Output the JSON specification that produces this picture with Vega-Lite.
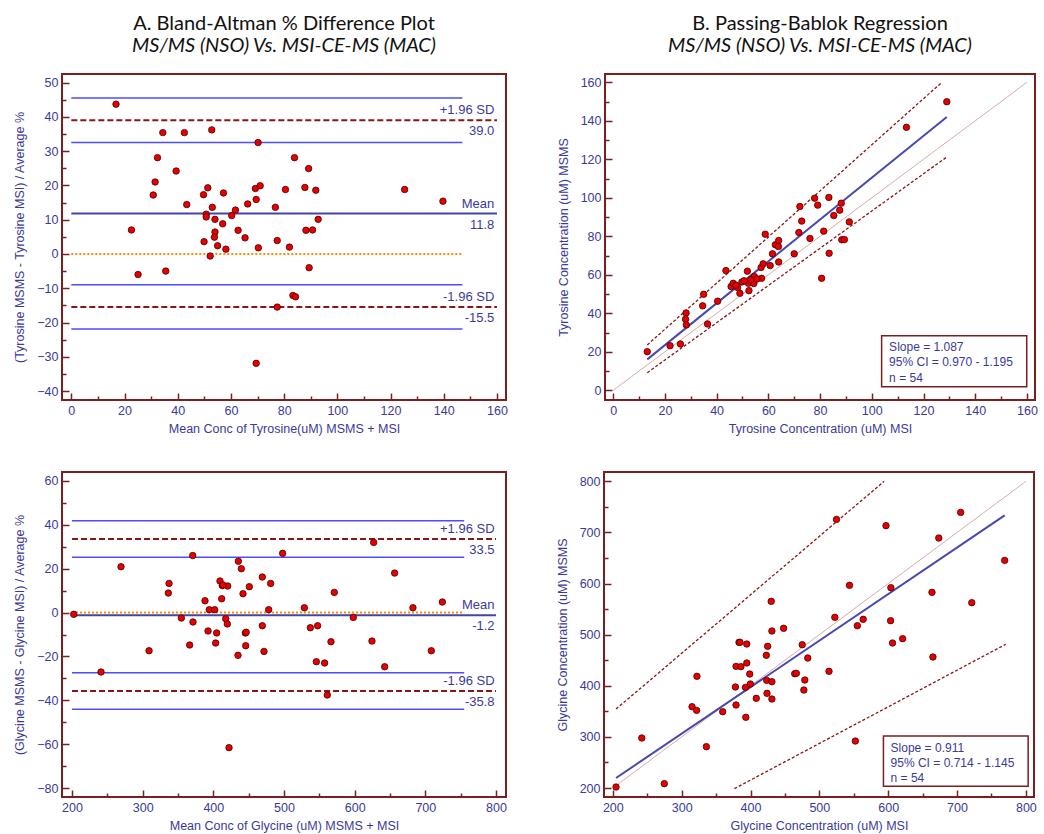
{
  "$schema": "https://vega.github.io/schema/vega-lite/v6.json",
  "background": "white",
  "padding": {"left": 12, "top": 13, "right": 0, "bottom": 0},
  "datasets": {
    "tyrBA": [
      {"mean":16.8,"pct":43.7},{"mean":34.4,"pct":35.4},{"mean":42.5,"pct":35.4},{"mean":52.8,"pct":36.2},{"mean":70.2,"pct":32.5},
      {"mean":32.4,"pct":28.1},{"mean":83.9,"pct":28.1},{"mean":39.4,"pct":24.2},{"mean":89.2,"pct":24.9},{"mean":31.5,"pct":21.0},
      {"mean":30.8,"pct":17.2},{"mean":51.3,"pct":19.3},{"mean":49.7,"pct":17.3},{"mean":57.2,"pct":17.8},{"mean":69.2,"pct":19.1},
      {"mean":71.0,"pct":19.9},{"mean":80.5,"pct":18.8},{"mean":87.8,"pct":19.4},{"mean":91.9,"pct":18.6},{"mean":125.3,"pct":18.8},
      {"mean":139.7,"pct":15.4},{"mean":43.4,"pct":14.4},{"mean":53.0,"pct":13.6},{"mean":61.7,"pct":12.8},{"mean":66.3,"pct":14.6},
      {"mean":69.5,"pct":15.9},{"mean":76.7,"pct":13.6},{"mean":50.7,"pct":11.6},{"mean":50.7,"pct":10.8},{"mean":60.3,"pct":11.2},
      {"mean":54.0,"pct":10.1},{"mean":56.9,"pct":8.8},{"mean":92.8,"pct":10.1},{"mean":22.6,"pct":7.0},{"mean":54.0,"pct":6.4},
      {"mean":62.7,"pct":6.9},{"mean":88.2,"pct":6.9},{"mean":90.7,"pct":7.0},{"mean":53.8,"pct":4.9},{"mean":49.9,"pct":3.6},
      {"mean":65.3,"pct":4.7},{"mean":77.4,"pct":3.9},{"mean":55.0,"pct":2.4},{"mean":58.1,"pct":1.4},{"mean":70.3,"pct":1.8},
      {"mean":82.0,"pct":2.0},{"mean":52.2,"pct":-0.6},{"mean":25.1,"pct":-6.0},{"mean":35.5,"pct":-5.0},{"mean":89.4,"pct":-4.0},
      {"mean":83.3,"pct":-12.1},{"mean":84.3,"pct":-12.5},{"mean":77.4,"pct":-15.5},{"mean":69.5,"pct":-31.9}
    ],
    "tyrBALines": [
      {"kind":"ci","y":45.5,"x":0,"x2":147},{"kind":"ci","y":32.5,"x":0,"x2":147},
      {"kind":"ci","y":-9.0,"x":0,"x2":147},{"kind":"ci","y":-21.9,"x":0,"x2":147},
      {"kind":"mean","y":11.8,"x":0,"x2":160},
      {"kind":"sd","y":39.0,"x":0,"x2":160},{"kind":"sd","y":-15.5,"x":0,"x2":160},
      {"kind":"zero","y":0,"x":0,"x2":147}
    ],
    "tyrBALabels": [
      {"x":159,"y":39.0,"top":"+1.96 SD","bottom":"39.0"},
      {"x":159,"y":11.8,"top":"Mean","bottom":"11.8"},
      {"x":159,"y":-15.5,"top":"-1.96 SD","bottom":"-15.5"}
    ],
    "tyrPB": [
      {"msi":13.2,"msms":20.1},{"msi":22.0,"msms":23.2},{"msi":26.0,"msms":24.1},{"msi":28.2,"msms":40.2},{"msi":28.0,"msms":36.9},
      {"msi":28.3,"msms":34.0},{"msi":36.5,"msms":34.5},{"msi":34.6,"msms":43.9},{"msi":35.0,"msms":49.9},{"msi":40.4,"msms":46.3},
      {"msi":43.6,"msms":62.2},{"msi":45.6,"msms":53.9},{"msi":46.4,"msms":55.6},{"msi":48.1,"msms":53.4},{"msi":49.0,"msms":50.4},
      {"msi":49.8,"msms":56.3},{"msi":51.9,"msms":61.9},{"msi":52.3,"msms":55.6},{"msi":52.5,"msms":51.8},{"msi":54.4,"msms":55.5},
      {"msi":54.6,"msms":59.1},{"msi":57.4,"msms":58.2},{"msi":57.2,"msms":63.8},{"msi":58.0,"msms":65.7},{"msi":58.8,"msms":81.1},
      {"msi":60.7,"msms":64.8},{"msi":61.6,"msms":70.9},{"msi":62.7,"msms":75.6},{"msi":64.0,"msms":77.8},{"msi":63.9,"msms":74.7},
      {"msi":64.0,"msms":66.7},{"msi":70.0,"msms":70.9},{"msi":71.8,"msms":82.0},{"msi":72.2,"msms":95.5},{"msi":72.9,"msms":87.9},
      {"msi":76.1,"msms":78.9},{"msi":77.9,"msms":99.8},{"msi":79.1,"msms":96.2},{"msi":80.6,"msms":58.2},{"msi":81.4,"msms":82.7},
      {"msi":83.4,"msms":100.2},{"msi":83.5,"msms":71.2},{"msi":85.3,"msms":90.8},{"msi":87.6,"msms":93.6},{"msi":88.2,"msms":97.2},
      {"msi":88.4,"msms":78.2},{"msi":89.4,"msms":78.3},{"msi":91.3,"msms":87.5},{"msi":113.4,"msms":136.6},{"msi":129.0,"msms":149.9},
      {"msi":47.5,"msms":54.6},{"msi":50.6,"msms":56.9},{"msi":53.2,"msms":57.4},{"msi":55.6,"msms":57.9}
    ],
    "tyrPBLines": [
      {"kind":"identity","x1":0,"y1":0,"x2":160,"y2":160},
      {"kind":"ci","x1":13.2,"y1":23.6,"x2":127.1,"y2":160.0},
      {"kind":"ci","x1":13.2,"y1":9.2,"x2":128.8,"y2":121.0},
      {"kind":"reg","x1":13.2,"y1":16.1,"x2":129.0,"y2":142.0}
    ],
    "tyrPBBox": [{"x1":103.8,"x2":159.9,"y1":1.9,"y2":28.4}],
    "tyrPBText": [
      {"x":106.7,"y":22.5,"t":"Slope = 1.087"},
      {"x":106.7,"y":14.6,"t":"95% CI = 0.970 - 1.195"},
      {"x":106.7,"y":6.6,"t":"n = 54"}
    ],
    "glyBA": [
      {"mean":202.4,"pct":-0.8},{"mean":241.0,"pct":-27.1},{"mean":269.3,"pct":20.9},{"mean":309.0,"pct":-17.4},{"mean":337.3,"pct":13.3},
      {"mean":336.3,"pct":8.9},{"mean":354.7,"pct":-2.5},{"mean":370.8,"pct":26.0},{"mean":371.2,"pct":-4.3},{"mean":366.5,"pct":-14.8},
      {"mean":388.2,"pct":5.4},{"mean":394.3,"pct":1.3},{"mean":392.5,"pct":-8.4},{"mean":401.9,"pct":1.3},{"mean":403.3,"pct":-13.9},
      {"mean":404.7,"pct":-9.3},{"mean":409.4,"pct":14.4},{"mean":412.7,"pct":12.3},{"mean":411.8,"pct":6.3},{"mean":420.3,"pct":12.1},
      {"mean":417.5,"pct":-2.8},{"mean":419.8,"pct":-5.2},{"mean":422.2,"pct":-61.6},{"mean":435.4,"pct":23.4},{"mean":439.6,"pct":20.0},
      {"mean":442.0,"pct":8.6},{"mean":434.9,"pct":-19.5},{"mean":445.3,"pct":-9.3},{"mean":445.8,"pct":-15.1},{"mean":450.9,"pct":11.8},
      {"mean":469.3,"pct":16.2},{"mean":469.3,"pct":-6.0},{"mean":471.7,"pct":-17.7},{"mean":481.1,"pct":13.3},{"mean":478.3,"pct":1.3},
      {"mean":498.1,"pct":27.0},{"mean":528.8,"pct":2.2},{"mean":537.3,"pct":-6.9},{"mean":545.8,"pct":-22.4},{"mean":547.6,"pct":-6.0},
      {"mean":557.5,"pct":-23.0},{"mean":561.3,"pct":-37.6},{"mean":566.5,"pct":-13.3},{"mean":571.2,"pct":9.2},{"mean":598.1,"pct":-2.2},
      {"mean":626.9,"pct":32.0},{"mean":624.5,"pct":-13.0},{"mean":642.5,"pct":-24.7},{"mean":656.6,"pct":18.0},{"mean":682.5,"pct":2.2},
      {"mean":708.5,"pct":-17.4},{"mean":724.1,"pct":4.8},{"mean":413.5,"pct":12.6},{"mean":446.5,"pct":-9.0}
    ],
    "glyBALines": [
      {"kind":"ci","y":41.9,"x":200,"x2":755},{"kind":"ci","y":25.2,"x":200,"x2":755},
      {"kind":"ci","y":-27.4,"x":200,"x2":755},{"kind":"ci","y":-44.1,"x":200,"x2":755},
      {"kind":"mean","y":-1.2,"x":200,"x2":800},
      {"kind":"sd","y":33.5,"x":200,"x2":800},{"kind":"sd","y":-35.8,"x":200,"x2":800},
      {"kind":"zero","y":0,"x":200,"x2":755}
    ],
    "glyBALabels": [
      {"x":798,"y":33.5,"top":"+1.96 SD","bottom":"33.5"},
      {"x":798,"y":-1.2,"top":"Mean","bottom":"-1.2"},
      {"x":798,"y":-35.8,"top":"-1.96 SD","bottom":"-35.8"}
    ],
    "glyPB": [
      {"msi":204.7,"msms":201.9},{"msi":242.1,"msms":297.8},{"msi":274.8,"msms":208.5},{"msi":315.1,"msms":359.1},{"msi":321.7,"msms":351.9},
      {"msi":322.2,"msms":418.5},{"msi":335.9,"msms":280.9},{"msi":359.6,"msms":349.3},{"msi":379.0,"msms":362.4},{"msi":378.1,"msms":397.6},
      {"msi":379.0,"msms":438.0},{"msi":383.3,"msms":485.0},{"msi":384.7,"msms":485.0},{"msi":386.1,"msms":437.4},{"msi":393.2,"msms":338.3},
      {"msi":392.7,"msms":396.9},{"msi":394.6,"msms":444.6},{"msi":394.6,"msms":481.7},{"msi":398.9,"msms":423.0},{"msi":399.8,"msms":403.5},
      {"msi":408.4,"msms":375.4},{"msi":423.0,"msms":459.6},{"msi":424.9,"msms":477.2},{"msi":423.5,"msms":410.6},{"msi":424.0,"msms":385.2},
      {"msi":430.1,"msms":565.2},{"msi":431.1,"msms":507.2},{"msi":431.1,"msms":408.0},{"msi":431.1,"msms":374.1},{"msi":448.1,"msms":512.4},
      {"msi":464.2,"msms":423.7},{"msi":466.6,"msms":424.3},{"msi":475.1,"msms":480.4},{"msi":477.5,"msms":391.7},{"msi":478.9,"msms":411.3},
      {"msi":483.2,"msms":454.3},{"msi":514.0,"msms":428.3},{"msi":522.5,"msms":533.9},{"msi":524.9,"msms":725.6},{"msi":543.8,"msms":596.5},
      {"msi":552.3,"msms":291.9},{"msi":555.2,"msms":517.6},{"msi":563.7,"msms":530.0},{"msi":596.8,"msms":713.3},{"msi":603.9,"msms":591.9},
      {"msi":603.5,"msms":527.4},{"msi":606.3,"msms":483.7},{"msi":621.0,"msms":492.2},{"msi":663.6,"msms":582.8},{"msi":665.0,"msms":456.3},
      {"msi":673.5,"msms":689.1},{"msi":705.3,"msms":739.3},{"msi":721.4,"msms":562.6},{"msi":769.2,"msms":645.4}
    ],
    "glyPBLines": [
      {"kind":"identity","x1":203,"y1":203,"x2":800,"y2":800},
      {"kind":"ci","x1":204.7,"y1":354.5,"x2":594.0,"y2":800.0},
      {"kind":"ci","x1":376.6,"y1":198.7,"x2":770.6,"y2":481.1},
      {"kind":"reg","x1":204.7,"y1":219.6,"x2":769.2,"y2":733.5}
    ],
    "glyPBBox": [{"x1":593.1,"x2":803.3,"y1":203.3,"y2":301.7}],
    "glyPBText": [
      {"x":603.5,"y":278.9,"t":"Slope = 0.911"},
      {"x":603.5,"y":248.9,"t":"95% CI = 0.714 - 1.145"},
      {"x":603.5,"y":218.9,"t":"n = 54"}
    ]
  },
  "config": {
    "view": {"stroke": "#7b1e1e", "strokeWidth": 2},
    "axis": {
      "domain": false, "grid": false,
      "labelFont": "Liberation Sans", "labelFontSize": 12.5, "labelColor": "#3a3a9a",
      "titleFont": "Liberation Sans", "titleFontSize": 12.5, "titleFontWeight": "normal", "titleColor": "#3a3a9a",
      "tickColor": "#7b1e1e", "tickWidth": 1.5, "tickSize": -7, "labelPadding": 11
    },
    "axisX": {"titlePadding": 6},
    "axisY": {"titlePadding": 10},
    "title": {
      "font": "Lato", "fontSize": 20, "fontWeight": "normal", "color": "#111111",
      "subtitleFont": "Lato", "subtitleFontSize": 20, "subtitleFontStyle": "italic", "subtitleColor": "#111111",
      "anchor": "middle", "offset": 18, "subtitlePadding": 2
    }
  },
  "spacing": 35,
  "vconcat": [
    {
      "spacing": 47,
      "hconcat": [
        {
          "width": 444, "height": 326,
          "title": {"text": "A. Bland-Altman % Difference Plot", "subtitle": "MS/MS (NSO) Vs. MSI-CE-MS (MAC)"},
          "resolve": {"axis": {"x": "independent", "y": "independent"}},
          "layer": [
            {
              "data": {"name": "tyrBALines"},
              "transform": [{"filter": "datum.kind === 'ci'"}],
              "mark": {"type": "rule", "color": "#4d4dff", "strokeWidth": 1.5},
              "encoding": {
                "x": {"field": "x", "type": "quantitative", "scale": {"domain": [-3.5, 163.4], "nice": false, "zero": false},
                      "axis": {"orient": "bottom", "values": [10,30,50,70,90,110,130,150], "labels": false, "title": null, "tickSize": -4}},
                "x2": {"field": "x2"},
                "y": {"field": "y", "type": "quantitative", "scale": {"domain": [-42.6, 52.5], "nice": false, "zero": false},
                      "axis": {"orient": "left", "values": [-35,-25,-15,-5,5,15,25,35,45], "labels": false, "title": null, "tickSize": -4}}
              }
            },
            {
              "data": {"name": "tyrBALines"},
              "transform": [{"filter": "datum.kind === 'zero'"}],
              "mark": {"type": "rule", "color": "#ff8a00", "strokeWidth": 2, "strokeDash": [2, 2]},
              "encoding": {"x": {"field": "x", "type": "quantitative", "axis": null}, "x2": {"field": "x2"}, "y": {"field": "y", "type": "quantitative", "axis": null}}
            },
            {
              "data": {"name": "tyrBALines"},
              "transform": [{"filter": "datum.kind === 'sd'"}],
              "mark": {"type": "rule", "color": "#8b1414", "strokeWidth": 2, "strokeDash": [6, 3]},
              "encoding": {"x": {"field": "x", "type": "quantitative", "axis": null}, "x2": {"field": "x2"}, "y": {"field": "y", "type": "quantitative", "axis": null}}
            },
            {
              "data": {"name": "tyrBALines"},
              "transform": [{"filter": "datum.kind === 'mean'"}],
              "mark": {"type": "rule", "color": "#4444a8", "strokeWidth": 2},
              "encoding": {"x": {"field": "x", "type": "quantitative", "axis": null}, "x2": {"field": "x2"}, "y": {"field": "y", "type": "quantitative", "axis": null}}
            },
            {
              "data": {"name": "tyrBALabels"},
              "mark": {"type": "text", "align": "right", "baseline": "bottom", "dy": -3, "font": "Liberation Sans", "fontSize": 13, "color": "#3a3a9a"},
              "encoding": {"x": {"field": "x", "type": "quantitative", "axis": null}, "y": {"field": "y", "type": "quantitative", "axis": null}, "text": {"field": "top"}}
            },
            {
              "data": {"name": "tyrBALabels"},
              "mark": {"type": "text", "align": "right", "baseline": "top", "dy": 5, "font": "Liberation Sans", "fontSize": 13, "color": "#3a3a9a"},
              "encoding": {"x": {"field": "x", "type": "quantitative", "axis": null}, "y": {"field": "y", "type": "quantitative", "axis": null}, "text": {"field": "bottom"}}
            },
            {
              "data": {"name": "tyrBA"},
              "mark": {"type": "circle", "size": 42, "color": "#e60000", "stroke": "#4a0000", "strokeWidth": 0.8, "opacity": 1},
              "encoding": {
                "x": {"field": "mean", "type": "quantitative", "axis": {"orient": "bottom", "values": [0,20,40,60,80,100,120,140,160], "title": "Mean Conc of Tyrosine(uM) MSMS + MSI"}},
                "y": {"field": "pct", "type": "quantitative", "axis": {"orient": "left", "values": [-40,-30,-20,-10,0,10,20,30,40,50], "title": "(Tyrosine MSMS - Tyrosine MSI) / Average %"}}
              }
            }
          ]
        },
        {
          "width": 430, "height": 326,
          "title": {"text": "B. Passing-Bablok Regression", "subtitle": "MS/MS (NSO) Vs. MSI-CE-MS (MAC)"},
          "resolve": {"axis": {"x": "independent", "y": "independent"}},
          "layer": [
            {
              "data": {"name": "tyrPBLines"},
              "transform": [{"filter": "datum.kind === 'identity'"}],
              "mark": {"type": "rule", "color": "#dcaaaa", "strokeWidth": 1},
              "encoding": {
                "x": {"field": "x1", "type": "quantitative", "scale": {"domain": [-3.15, 163.1], "nice": false, "zero": false},
                      "axis": {"orient": "bottom", "values": [10,30,50,70,90,110,130,150], "labels": false, "title": null, "tickSize": -4}},
                "x2": {"field": "x2"},
                "y": {"field": "y1", "type": "quantitative", "scale": {"domain": [-5.0, 164.3], "nice": false, "zero": false},
                      "axis": {"orient": "left", "values": [10,30,50,70,90,110,130,150], "labels": false, "title": null, "tickSize": -4}},
                "y2": {"field": "y2"}
              }
            },
            {
              "data": {"name": "tyrPBLines"},
              "transform": [{"filter": "datum.kind === 'ci'"}],
              "mark": {"type": "rule", "color": "#8b1414", "strokeWidth": 1.3, "strokeDash": [3, 2]},
              "encoding": {"x": {"field": "x1", "type": "quantitative", "axis": null}, "x2": {"field": "x2"}, "y": {"field": "y1", "type": "quantitative", "axis": null}, "y2": {"field": "y2"}}
            },
            {
              "data": {"name": "tyrPBLines"},
              "transform": [{"filter": "datum.kind === 'reg'"}],
              "mark": {"type": "rule", "color": "#4848b0", "strokeWidth": 2},
              "encoding": {"x": {"field": "x1", "type": "quantitative", "axis": null}, "x2": {"field": "x2"}, "y": {"field": "y1", "type": "quantitative", "axis": null}, "y2": {"field": "y2"}}
            },
            {
              "data": {"name": "tyrPB"},
              "mark": {"type": "circle", "size": 42, "color": "#e60000", "stroke": "#4a0000", "strokeWidth": 0.8, "opacity": 1},
              "encoding": {
                "x": {"field": "msi", "type": "quantitative", "axis": {"orient": "bottom", "values": [0,20,40,60,80,100,120,140,160], "title": "Tyrosine Concentration (uM) MSI"}},
                "y": {"field": "msms", "type": "quantitative", "axis": {"orient": "left", "values": [0,20,40,60,80,100,120,140,160], "title": "Tyrosine Concentration (uM) MSMS"}}
              }
            },
            {
              "data": {"name": "tyrPBBox"},
              "mark": {"type": "rect", "fill": "white", "stroke": "#7b1e1e", "strokeWidth": 1.5},
              "encoding": {"x": {"field": "x1", "type": "quantitative", "axis": null}, "x2": {"field": "x2"}, "y": {"field": "y1", "type": "quantitative", "axis": null}, "y2": {"field": "y2"}}
            },
            {
              "data": {"name": "tyrPBText"},
              "mark": {"type": "text", "align": "left", "baseline": "middle", "font": "Liberation Sans", "fontSize": 12, "color": "#3a3a9a"},
              "encoding": {"x": {"field": "x", "type": "quantitative", "axis": null}, "y": {"field": "y", "type": "quantitative", "axis": null}, "text": {"field": "t"}}
            }
          ]
        }
      ]
    },
    {
      "spacing": 47,
      "hconcat": [
        {
          "width": 444, "height": 325,
          "resolve": {"axis": {"x": "independent", "y": "independent"}},
          "layer": [
            {
              "data": {"name": "glyBALines"},
              "transform": [{"filter": "datum.kind === 'ci'"}],
              "mark": {"type": "rule", "color": "#4d4dff", "strokeWidth": 1.5},
              "encoding": {
                "x": {"field": "x", "type": "quantitative", "scale": {"domain": [185.8, 814.2], "nice": false, "zero": false},
                      "axis": {"orient": "bottom", "values": [250,350,450,550,650,750], "labels": false, "title": null, "tickSize": -4}},
                "x2": {"field": "x2"},
                "y": {"field": "y", "type": "quantitative", "scale": {"domain": [-84.1, 64.1], "nice": false, "zero": false},
                      "axis": {"orient": "left", "values": [-70,-50,-30,-10,10,30,50], "labels": false, "title": null, "tickSize": -4}}
              }
            },
            {
              "data": {"name": "glyBALines"},
              "transform": [{"filter": "datum.kind === 'zero'"}],
              "mark": {"type": "rule", "color": "#ff8a00", "strokeWidth": 2, "strokeDash": [2, 2]},
              "encoding": {"x": {"field": "x", "type": "quantitative", "axis": null}, "x2": {"field": "x2"}, "y": {"field": "y", "type": "quantitative", "axis": null}}
            },
            {
              "data": {"name": "glyBALines"},
              "transform": [{"filter": "datum.kind === 'sd'"}],
              "mark": {"type": "rule", "color": "#8b1414", "strokeWidth": 2, "strokeDash": [6, 3]},
              "encoding": {"x": {"field": "x", "type": "quantitative", "axis": null}, "x2": {"field": "x2"}, "y": {"field": "y", "type": "quantitative", "axis": null}}
            },
            {
              "data": {"name": "glyBALines"},
              "transform": [{"filter": "datum.kind === 'mean'"}],
              "mark": {"type": "rule", "color": "#4444a8", "strokeWidth": 2},
              "encoding": {"x": {"field": "x", "type": "quantitative", "axis": null}, "x2": {"field": "x2"}, "y": {"field": "y", "type": "quantitative", "axis": null}}
            },
            {
              "data": {"name": "glyBALabels"},
              "mark": {"type": "text", "align": "right", "baseline": "bottom", "dy": -3, "font": "Liberation Sans", "fontSize": 13, "color": "#3a3a9a"},
              "encoding": {"x": {"field": "x", "type": "quantitative", "axis": null}, "y": {"field": "y", "type": "quantitative", "axis": null}, "text": {"field": "top"}}
            },
            {
              "data": {"name": "glyBALabels"},
              "mark": {"type": "text", "align": "right", "baseline": "top", "dy": 5, "font": "Liberation Sans", "fontSize": 13, "color": "#3a3a9a"},
              "encoding": {"x": {"field": "x", "type": "quantitative", "axis": null}, "y": {"field": "y", "type": "quantitative", "axis": null}, "text": {"field": "bottom"}}
            },
            {
              "data": {"name": "glyBA"},
              "mark": {"type": "circle", "size": 42, "color": "#e60000", "stroke": "#4a0000", "strokeWidth": 0.8, "opacity": 1},
              "encoding": {
                "x": {"field": "mean", "type": "quantitative", "axis": {"orient": "bottom", "values": [200,300,400,500,600,700,800], "title": "Mean Conc of Glycine (uM) MSMS + MSI"}},
                "y": {"field": "pct", "type": "quantitative", "axis": {"orient": "left", "values": [-80,-60,-40,-20,0,20,40,60], "title": "(Glycine MSMS - Glycine MSI) / Average %"}}
              }
            }
          ]
        },
        {
          "width": 430, "height": 325,
          "resolve": {"axis": {"x": "independent", "y": "independent"}},
          "layer": [
            {
              "data": {"name": "glyPBLines"},
              "transform": [{"filter": "datum.kind === 'identity'"}],
              "mark": {"type": "rule", "color": "#dcaaaa", "strokeWidth": 1},
              "encoding": {
                "x": {"field": "x1", "type": "quantitative", "scale": {"domain": [187.2, 811.8], "nice": false, "zero": false},
                      "axis": {"orient": "bottom", "values": [250,350,450,550,650,750], "labels": false, "title": null, "tickSize": -4}},
                "x2": {"field": "x2"},
                "y": {"field": "y1", "type": "quantitative", "scale": {"domain": [182.4, 818.3], "nice": false, "zero": false},
                      "axis": {"orient": "left", "values": [250,350,450,550,650,750], "labels": false, "title": null, "tickSize": -4}},
                "y2": {"field": "y2"}
              }
            },
            {
              "data": {"name": "glyPBLines"},
              "transform": [{"filter": "datum.kind === 'ci'"}],
              "mark": {"type": "rule", "color": "#8b1414", "strokeWidth": 1.3, "strokeDash": [3, 2]},
              "encoding": {"x": {"field": "x1", "type": "quantitative", "axis": null}, "x2": {"field": "x2"}, "y": {"field": "y1", "type": "quantitative", "axis": null}, "y2": {"field": "y2"}}
            },
            {
              "data": {"name": "glyPBLines"},
              "transform": [{"filter": "datum.kind === 'reg'"}],
              "mark": {"type": "rule", "color": "#4848b0", "strokeWidth": 2},
              "encoding": {"x": {"field": "x1", "type": "quantitative", "axis": null}, "x2": {"field": "x2"}, "y": {"field": "y1", "type": "quantitative", "axis": null}, "y2": {"field": "y2"}}
            },
            {
              "data": {"name": "glyPB"},
              "mark": {"type": "circle", "size": 42, "color": "#e60000", "stroke": "#4a0000", "strokeWidth": 0.8, "opacity": 1},
              "encoding": {
                "x": {"field": "msi", "type": "quantitative", "axis": {"orient": "bottom", "values": [200,300,400,500,600,700,800], "title": "Glycine Concentration (uM) MSI"}},
                "y": {"field": "msms", "type": "quantitative", "axis": {"orient": "left", "values": [200,300,400,500,600,700,800], "title": "Glycine Concentration (uM) MSMS"}}
              }
            },
            {
              "data": {"name": "glyPBBox"},
              "mark": {"type": "rect", "fill": "white", "stroke": "#7b1e1e", "strokeWidth": 1.5},
              "encoding": {"x": {"field": "x1", "type": "quantitative", "axis": null}, "x2": {"field": "x2"}, "y": {"field": "y1", "type": "quantitative", "axis": null}, "y2": {"field": "y2"}}
            },
            {
              "data": {"name": "glyPBText"},
              "mark": {"type": "text", "align": "left", "baseline": "middle", "font": "Liberation Sans", "fontSize": 12, "color": "#3a3a9a"},
              "encoding": {"x": {"field": "x", "type": "quantitative", "axis": null}, "y": {"field": "y", "type": "quantitative", "axis": null}, "text": {"field": "t"}}
            }
          ]
        }
      ]
    }
  ]
}
